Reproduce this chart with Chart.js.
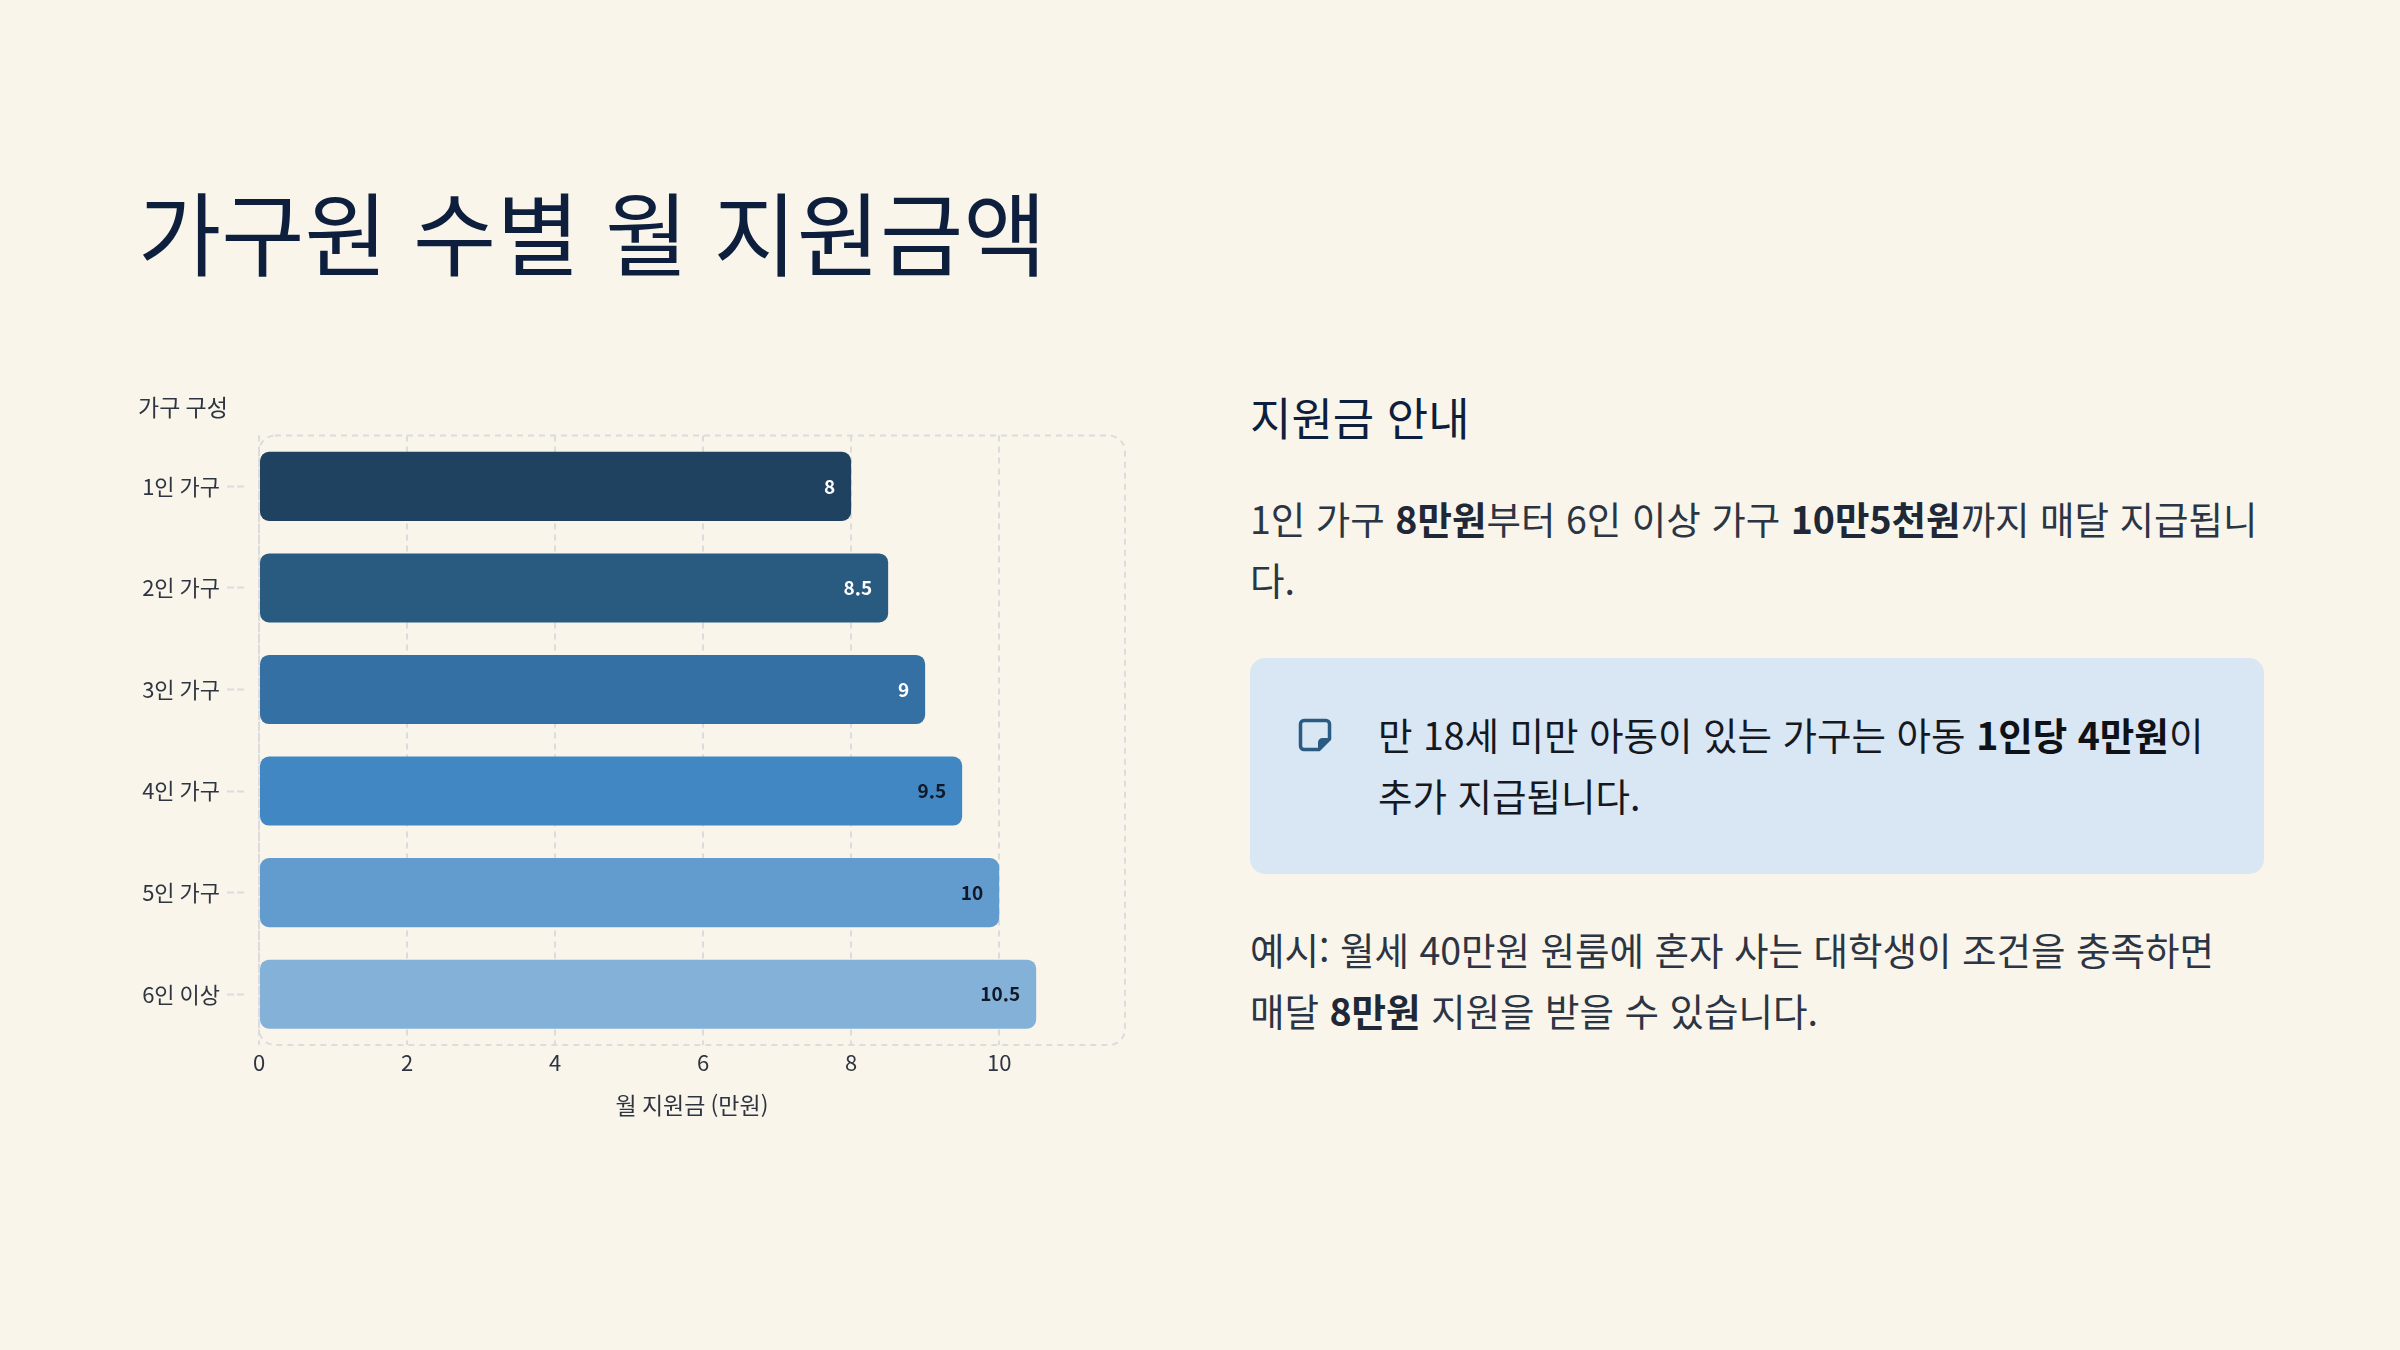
<!DOCTYPE html>
<html lang="ko">
<head>
<meta charset="utf-8">
<script src="https://cdn.jsdelivr.net/npm/chart.js@4.4.1/dist/chart.umd.min.js"></script>
<style>
  html, body { margin: 0; padding: 0; }
  body {
    width: 2400px; height: 1350px; position: relative; overflow: hidden;
    background: #f9f5eb;
    font-family: "Noto Sans CJK KR", "Noto Sans", sans-serif;
  }
  #title {
    position: absolute; left: 138px; top: 185px; margin: 0;
    font-size: 90.5px; font-weight: 400; line-height: 1; color: #0d1f3c;
    white-space: nowrap;
  }
  #chartBox { position: absolute; left: 120px; top: 370px; width: 1040px; height: 770px; }
  #side { position: absolute; left: 1250px; top: 0; width: 1014px; }
  #side h2 {
    position: absolute; left: 0; top: 394px; margin: 0;
    font-size: 45px; font-weight: 400; line-height: 1; color: #0d1f3c; white-space: nowrap;
  }
  .para {
    position: absolute; left: 0; width: 1014px; margin: 0;
    font-size: 37.5px; line-height: 61px; color: #2b3544; font-weight: 400;
  }
  .para b { font-weight: 700; color: #1e2836; }
  #p1 { top: 487px; }
  #p2 { top: 918px; word-break: keep-all; }
  #callout {
    position: absolute; left: 0; top: 658px; width: 1014px; height: 216px;
    box-sizing: border-box; padding: 45px 48px 0 48px;
    background: #d9e6f4; border-radius: 15px; display: flex; align-items: flex-start;
  }
  #callout svg { flex: 0 0 34px; margin-top: 15px; margin-right: 46px; }
  #callout p { margin: 0; font-size: 37.5px; line-height: 61px; color: #15191f; word-break: keep-all; }
  #callout b { font-weight: 700; color: #0e1116; }
</style>
</head>
<body>
<h1 id="title">가구원 수별 월 지원금액</h1>
<div id="chartBox"><canvas id="chart"></canvas></div>
<div id="side">
  <h2>지원금 안내</h2>
  <p class="para" id="p1">1인 가구 <b>8만원</b>부터 6인 이상 가구 <b>10만5천원</b>까지 매달 지급됩니다.</p>
  <div id="callout">
    <svg width="34" height="34" viewBox="0 0 34 34">
      <path d="M6 2.5 H28 A3.5 3.5 0 0 1 31.5 6 V21 L21 31.5 H6 A3.5 3.5 0 0 1 2.5 28 V6 A3.5 3.5 0 0 1 6 2.5 Z" fill="none" stroke="#2b5a82" stroke-width="3.5" stroke-linejoin="round"/>
      <path d="M31.5 21 H24.5 A3.5 3.5 0 0 0 21 24.5 V31.5 Z" fill="#2b5a82" stroke="#2b5a82" stroke-width="2" stroke-linejoin="round"/>
    </svg>
    <p>만 18세 미만 아동이 있는 가구는 아동 <b>1인당 4만원</b>이 추가 지급됩니다.</p>
  </div>
  <p class="para" id="p2">예시: 월세 40만원 원룸에 혼자 사는 대학생이 조건을 충족하면 매달 <b>8만원</b> 지원을 받을 수 있습니다.</p>
</div>
<script>
const categories = ['1인 가구', '2인 가구', '3인 가구', '4인 가구', '5인 가구', '6인 이상'];
const amounts = [8, 8.5, 9, 9.5, 10, 10.5];
const xTickValues = [0, 2, 4, 6, 8, 10];
const xMax = 11.7;
const barColors = ['#1f4260', '#295a80', '#3470a3', '#4187c4', '#629cce', '#83b1d8'];
const valueLabelColors = ['#ffffff', '#ffffff', '#ffffff', '#111827', '#111827', '#111827'];
const yAxisTitle = '가구 구성';
const xAxisTitle = '월 지원금 (만원)';

const FONT = '"Noto Sans CJK KR", "Noto Sans", sans-serif';
const GRID = '#dcdcdf';

const frameBox = {
  id: 'frameBox',
  beforeDatasetsDraw(chart) {
    const a = chart.chartArea, ctx = chart.ctx;
    ctx.save();
    ctx.strokeStyle = GRID;
    ctx.lineWidth = 2;
    ctx.setLineDash([6, 5]);
    ctx.beginPath();
    ctx.roundRect(a.left, a.top, a.right - a.left, a.bottom - a.top, 16);
    ctx.stroke();
    ctx.restore();
  }
};

const valueLabels = {
  id: 'valueLabels',
  afterDatasetsDraw(chart) {
    const ctx = chart.ctx;
    const meta = chart.getDatasetMeta(0);
    ctx.save();
    ctx.font = 'bold 19px ' + FONT;
    ctx.textAlign = 'right';
    ctx.textBaseline = 'middle';
    meta.data.forEach((bar, i) => {
      ctx.fillStyle = valueLabelColors[i];
      ctx.fillText(String(amounts[i]), bar.x - 16, bar.y);
    });
    ctx.restore();
  }
};

new Chart(document.getElementById('chart'), {
  type: 'bar',
  data: {
    labels: categories,
    datasets: [{
      data: amounts,
      backgroundColor: barColors,
      borderRadius: 9,
      borderSkipped: false,
      barPercentage: 0.85,
      categoryPercentage: 0.8
    }]
  },
  options: {
    indexAxis: 'y',
    responsive: true,
    maintainAspectRatio: false,
    devicePixelRatio: 1,
    animation: false,
    layout: { padding: { left: 18, right: 35, top: 0, bottom: 17 } },
    plugins: {
      legend: { display: false },
      tooltip: { enabled: false },
      title: {
        display: true, text: yAxisTitle, align: 'start',
        color: '#2f3540', font: { family: FONT, size: 23, weight: '400' },
        padding: { top: 23, bottom: 15 }
      }
    },
    scales: {
      x: {
        type: 'linear', min: 0, max: xMax,
        afterBuildTicks: s => { s.ticks = xTickValues.map(v => ({ value: v })); },
        ticks: { color: '#2f3540', font: { family: FONT, size: 22 }, padding: 4 },
        grid: { color: GRID, lineWidth: 2, drawTicks: false },
        border: { display: false, dash: [6, 5] },
        title: {
          display: true, text: xAxisTitle, color: '#2f3540',
          font: { family: FONT, size: 23 }, padding: { top: 12, bottom: 4 }
        }
      },
      y: {
        afterFit: s => { s.width = 121; },
        ticks: { color: '#2f3540', font: { family: FONT, size: 22 }, padding: 7 },
        grid: {
          offset: false, drawOnChartArea: false, drawTicks: true,
          tickLength: 32, tickColor: GRID, tickWidth: 2, tickBorderDash: [7, 3, 7, 100]
        },
        border: { display: false }
      }
    }
  },
  plugins: [frameBox, valueLabels]
});
</script>
</body>
</html>
